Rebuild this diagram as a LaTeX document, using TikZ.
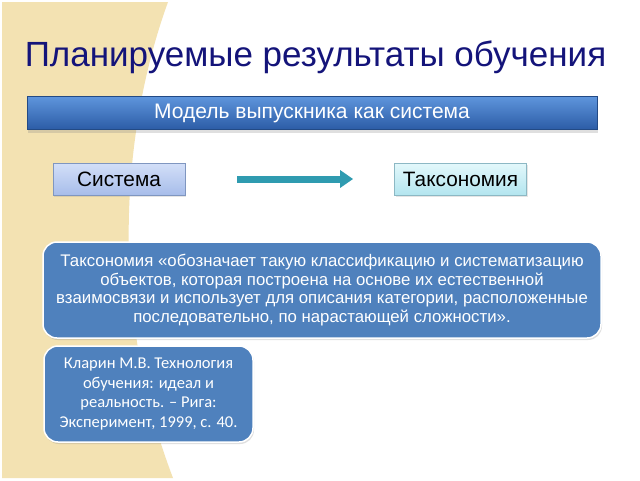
\documentclass[tikz,border=0pt]{standalone}
\usepackage{fontspec}
\usepackage{graphicx}
\setmainfont{Liberation Sans}
\newfontfamily\calfont{Carlito}
\usetikzlibrary{arrows.meta,shadows}
\definecolor{beige}{HTML}{F3E2B2}
\definecolor{titleblue}{HTML}{14147A}
\definecolor{boxblue}{HTML}{4F81BD}
\definecolor{teal}{HTML}{2F9BB0}
\definecolor{bannertop}{HTML}{5E95DC}
\definecolor{bannerbot}{HTML}{2C5CA6}
\definecolor{sysTop}{HTML}{D3DFF8}
\definecolor{sysBot}{HTML}{A7BDEA}
\definecolor{sysDraw}{HTML}{7F96C0}
\definecolor{taxTop}{HTML}{E3F8FB}
\definecolor{taxBot}{HTML}{B3E5EF}
\definecolor{taxDraw}{HTML}{8CB8C4}
\tikzset{
  banner/.style={rectangle, top color=bannertop, bottom color=bannerbot, draw=bannerbot!80!black, line width=0.5pt,
    text=white, font=\fontsize{21}{24}\selectfont, drop shadow={opacity=0.25, shadow xshift=1pt, shadow yshift=-3pt}},
  smallbox/.style={rectangle, line width=0.8pt, font=\fontsize{20.8}{24}\selectfont, text=black,
    drop shadow={opacity=0.2, shadow xshift=1pt, shadow yshift=-2pt}},
  bigbox/.style={rectangle, rounded corners=14pt, fill=boxblue, draw=white, line width=1.5pt, text=white,
    align=center, drop shadow={opacity=0.25, shadow xshift=1pt, shadow yshift=-2pt}},
  flow/.style={-{Triangle[length=13pt,width=17pt]}, line width=7pt, draw=teal}
}
\begin{document}
\begin{tikzpicture}[x=1pt,y=-1pt]
\useasboundingbox (0,0) rectangle (640,480);
\fill[white] (0,0) rectangle (640,480);
\fill[beige] (2,2) -- (168,2) .. controls (125,120) and (105,300) .. (173,478) -- (2,478) -- cycle;

\node[anchor=base, text=titleblue, font=\fontsize{35}{40}\selectfont, inner sep=0] (title) at (315.5,66.5) {Планируемые результаты обучения};

\node[banner, minimum width=570pt, minimum height=33pt] (banner) at (312,113) {Модель выпускника как система};

\node[smallbox, top color=sysTop, bottom color=sysBot, draw=sysDraw, minimum width=132pt, minimum height=32pt] (sys) at (119,179) {Система};
\node[smallbox, top color=taxTop, bottom color=taxBot, draw=taxDraw, minimum width=132pt, minimum height=32pt] (tax) at (460.5,179) {Таксономия};
\draw[flow, shorten <=52pt, shorten >=41pt] (sys.east) -- (tax.west);

\node[bigbox, minimum width=558pt, minimum height=96pt, font=\fontsize{16.8}{18.7}\selectfont] (def) at (322,290)
 {Таксономия «обозначает такую классификацию и систематизацию\\
  объектов, которая построена на основе их естественной\\
  взаимосвязи и использует для описания категории, расположенные\\
  последовательно, по нарастающей сложности».};

\node[bigbox, minimum width=209pt, minimum height=96pt, font=\calfont\fontsize{16.5}{19.5}\selectfont] (ref) at (148.5,394)
 {Кларин М.В. Технология\\обучения: идеал и\\реальность. – Рига:\\Эксперимент, 1999, с. 40.};
\end{tikzpicture}
\end{document}
